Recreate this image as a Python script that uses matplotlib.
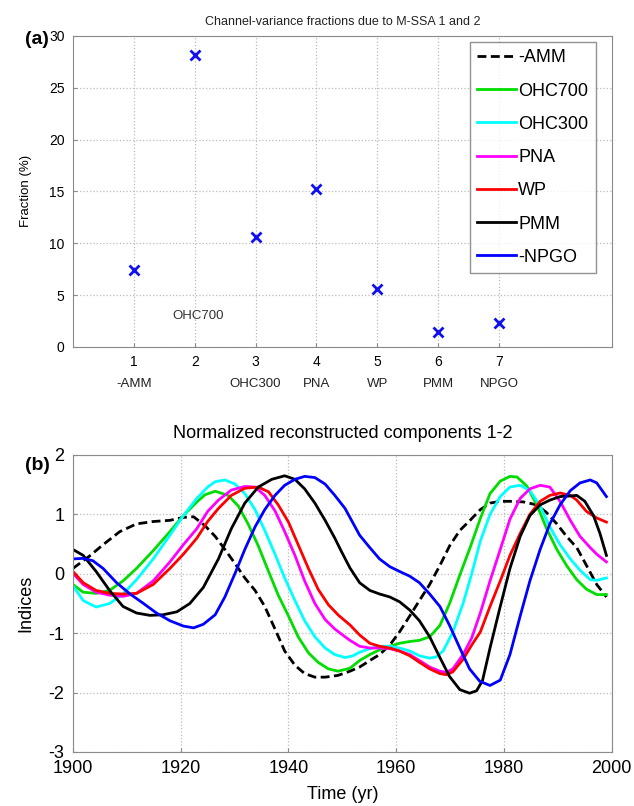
import matplotlib
matplotlib.use("Agg")
import matplotlib.pyplot as plt

plt.rcParams['font.family'] = ['Liberation Sans', 'DejaVu Sans']
plt.rcParams['axes.unicode_minus'] = False

# ---------------- Panel (a) data ----------------
chan_idx = [1, 2, 3, 4, 5, 6, 7]
chan_names = ['-AMM', '', 'OHC300', 'PNA', 'WP', 'PMM', 'NPGO']
fractions = [7.4, 28.2, 10.6, 15.2, 5.6, 1.4, 2.3]

# ---------------- Panel (b) data ----------------
amm_yr = [1900, 1903.1, 1905.6, 1908.7, 1911.8, 1914.9, 1918, 1920.5, 1922.4, 1924.5, 1926.4, 1928.2,
          1930.1, 1931.9, 1933.8, 1935.6, 1937.5, 1939.3, 1941.2, 1943, 1944.9, 1946.8, 1949.2, 1951.4,
          1953.2, 1955.1, 1956.9, 1958.8, 1960.6, 1962.5, 1964.3, 1966.2, 1968.1, 1969.9, 1971.8, 1973.7,
          1975.6, 1977.4, 1979.3, 1981.1, 1983.6, 1986.1, 1987.9, 1989.8, 1991.6, 1993.5, 1995.3, 1997.2, 1999]
amm_val = [0.09, 0.3, 0.49, 0.71, 0.84, 0.88, 0.9, 0.95, 0.96, 0.81, 0.63, 0.41,
           0.17, -0.07, -0.28, -0.55, -0.93, -1.3, -1.54, -1.68, -1.74, -1.74, -1.71, -1.64,
           -1.57, -1.46, -1.36, -1.2, -0.98, -0.71, -0.45, -0.18, 0.14, 0.47, 0.73, 0.9,
           1.08, 1.19, 1.22, 1.22, 1.21, 1.16, 1.03, 0.84, 0.63, 0.44, 0.14, -0.18, -0.39]

ohc700_yr = [1900, 1901.9, 1904.3, 1906.8, 1909.3, 1911.8, 1914.9, 1918, 1920.5, 1923, 1924.5, 1926.4,
             1928.8, 1930.7, 1932.5, 1934.4, 1936.3, 1938.1, 1940, 1941.8, 1943.7, 1945.5, 1947.4, 1949.2,
             1951.4, 1953.2, 1955.1, 1956.9, 1958.8, 1960.6, 1962.5, 1964.3, 1966.2, 1968.1, 1969.9, 1971.8,
             1973.7, 1975.6, 1977.4, 1979.3, 1981.1, 1982.4, 1984.2, 1986.1, 1987.9, 1989.8, 1991.6, 1993.5,
             1995.3, 1997.2, 1999]
ohc700_val = [-0.18, -0.31, -0.33, -0.28, -0.12, 0.09, 0.39, 0.71, 0.98, 1.21, 1.33, 1.39,
              1.32, 1.14, 0.84, 0.47, 0.04, -0.36, -0.71, -1.06, -1.33, -1.49, -1.6, -1.64,
              -1.59, -1.46, -1.36, -1.28, -1.22, -1.17, -1.14, -1.12, -1.06, -0.87, -0.5, -0.02,
              0.44, 0.93, 1.35, 1.56, 1.64, 1.63, 1.48, 1.16, 0.76, 0.41, 0.14, -0.1,
              -0.26, -0.35, -0.35]

ohc300_yr = [1900, 1901.9, 1904.3, 1906.8, 1909.3, 1911.8, 1914.9, 1918, 1920.5, 1923, 1925, 1926.4,
             1928.2, 1930.1, 1931.9, 1933.8, 1935.6, 1937.5, 1939.3, 1941.2, 1943, 1944.9, 1946.8, 1948.6,
             1950.5, 1952, 1953.2, 1955.1, 1956.9, 1958.8, 1960.6, 1962.5, 1964.3, 1966.2, 1967.4, 1968.7,
             1970.5, 1972.4, 1974, 1975.6, 1977.4, 1979.3, 1981.1, 1983, 1984.8, 1986.7, 1988.5, 1990.4,
             1992.3, 1994.1, 1996, 1997.2, 1999]
ohc300_val = [-0.2, -0.45, -0.56, -0.5, -0.34, -0.1, 0.25, 0.65, 0.98, 1.27, 1.46, 1.55,
              1.58, 1.51, 1.35, 1.08, 0.73, 0.33, -0.07, -0.45, -0.79, -1.06, -1.25, -1.36,
              -1.41, -1.38, -1.32, -1.26, -1.22, -1.22, -1.25, -1.3, -1.38, -1.42, -1.4, -1.3,
              -0.98, -0.5, 0.0, 0.55, 1.0, 1.3, 1.46, 1.49, 1.4, 1.14, 0.79, 0.49,
              0.25, 0.06, -0.1, -0.11, -0.07]

pna_yr = [1900, 1901.9, 1904.3, 1906.8, 1909.3, 1911.8, 1914.9, 1918, 1920.5, 1923, 1925, 1927,
          1929.4, 1931.9, 1933.8, 1935.6, 1937.5, 1939.3, 1941.2, 1943, 1944.9, 1946.8, 1948.6, 1950.5,
          1951.4, 1953.2, 1955.1, 1956.9, 1958.8, 1960.6, 1962.5, 1964.3, 1966.2, 1968.1, 1969.3, 1970.5,
          1972.4, 1974, 1975.6, 1977.4, 1979.3, 1981.1, 1983, 1984.8, 1986.7, 1988.5, 1990.4, 1992.3,
          1994.1, 1996, 1997.2, 1999]
pna_val = [0.01, -0.18, -0.31, -0.36, -0.38, -0.33, -0.12, 0.2, 0.49, 0.76, 1.05, 1.24,
           1.41, 1.47, 1.46, 1.32, 1.06, 0.71, 0.31, -0.12, -0.5, -0.77, -0.93, -1.06,
           -1.12, -1.22, -1.25, -1.25, -1.26, -1.3, -1.36, -1.46, -1.57, -1.64, -1.66, -1.6,
           -1.36, -1.08, -0.66, -0.12, 0.41, 0.92, 1.27, 1.43, 1.49, 1.46, 1.22, 0.9,
           0.63, 0.44, 0.33, 0.2]

wp_yr = [1900, 1901.9, 1904.3, 1906.8, 1909.3, 1911.8, 1914.9, 1918, 1920.5, 1923, 1925, 1927,
         1929.4, 1931.9, 1934.4, 1936.3, 1938.1, 1940, 1941.8, 1943.7, 1945.5, 1947.4, 1949.3, 1951.4,
         1953.2, 1955.1, 1956.9, 1958.8, 1960.6, 1962.5, 1964.3, 1966.2, 1968.1, 1969.3, 1970.5, 1972.4,
         1974, 1975.6, 1977.4, 1979.3, 1981.1, 1983, 1984.8, 1986.7, 1988.5, 1990.4, 1992.3, 1993.5,
         1995.3, 1997.2, 1999]
wp_val = [0.04, -0.15, -0.28, -0.33, -0.34, -0.33, -0.18, 0.09, 0.33, 0.6, 0.88, 1.1,
          1.32, 1.44, 1.46, 1.38, 1.16, 0.87, 0.49, 0.09, -0.26, -0.52, -0.7, -0.86,
          -1.03, -1.17, -1.22, -1.25, -1.3, -1.38, -1.49, -1.6, -1.68, -1.7, -1.65, -1.44,
          -1.2, -0.98, -0.55, -0.12, 0.31, 0.68, 1.0, 1.22, 1.32, 1.36, 1.32, 1.24,
          1.05, 0.94, 0.87]

pmm_yr = [1900, 1901.9, 1904.3, 1906.8, 1909.3, 1911.8, 1914.3, 1916.7, 1919.3, 1921.7, 1924.2, 1927,
          1929.4, 1931.9, 1934.4, 1936.9, 1939.3, 1941.2, 1943, 1944.9, 1946.8, 1948.6, 1949.8, 1951.4,
          1953.2, 1955.1, 1956.9, 1958.8, 1960.6, 1962.5, 1964.3, 1966.2, 1968.1, 1969.9, 1971.8, 1973.6,
          1974.9, 1976, 1977.4, 1979.3, 1981.1, 1983, 1984.8, 1986.7, 1988.5, 1990.4, 1992.3, 1993.5,
          1995, 1996.6, 1997.8, 1999]
pmm_val = [0.41, 0.31, 0.04, -0.28, -0.55, -0.66, -0.7, -0.69, -0.64, -0.5, -0.23, 0.25,
           0.76, 1.19, 1.46, 1.59, 1.65, 1.59, 1.43, 1.19, 0.9, 0.6, 0.38, 0.1,
           -0.15, -0.28, -0.34, -0.39, -0.47, -0.61, -0.79, -1.06, -1.41, -1.73, -1.95, -2.01,
           -1.97, -1.8, -1.25, -0.55, 0.09, 0.63, 0.98, 1.16, 1.24, 1.3, 1.31, 1.32,
           1.22, 0.98, 0.68, 0.31]

npgo_yr = [1900, 1901.9, 1903.7, 1905.6, 1908.1, 1910.6, 1913.1, 1915.5, 1918, 1920.5, 1922.4, 1924.2,
           1926.4, 1928.2, 1930.1, 1931.9, 1933.8, 1935.6, 1937.5, 1939.3, 1941.2, 1943, 1944.9, 1946.8,
           1948.6, 1950.5, 1951.4, 1953.2, 1955.1, 1956.9, 1958.8, 1960.6, 1962.5, 1964.3, 1966.2, 1968.1,
           1969.9, 1971.8, 1973.6, 1975.5, 1977.4, 1979.3, 1981.1, 1983, 1984.8, 1986.7, 1988.5, 1990.4,
           1992.3, 1994.1, 1996, 1997.2, 1999]
npgo_val = [0.25, 0.26, 0.22, 0.09, -0.15, -0.34, -0.5, -0.66, -0.79, -0.88, -0.91, -0.85,
            -0.69, -0.39, 0.01, 0.41, 0.79, 1.08, 1.32, 1.49, 1.59, 1.64, 1.62, 1.51,
            1.32, 1.1, 0.95, 0.65, 0.44, 0.25, 0.12, 0.04, -0.04, -0.15, -0.34, -0.55,
            -0.87, -1.25, -1.6, -1.81, -1.88, -1.79, -1.36, -0.71, -0.12, 0.41, 0.84, 1.16,
            1.4, 1.53, 1.58, 1.53, 1.3]

series = [
    ('-AMM', amm_yr, amm_val, 'black', (0, (3.2, 1.6))),
    ('OHC700', ohc700_yr, ohc700_val, '#00dd00', '-'),
    ('OHC300', ohc300_yr, ohc300_val, '#00ffff', '-'),
    ('PNA', pna_yr, pna_val, '#ff00ff', '-'),
    ('WP', wp_yr, wp_val, '#ff0000', '-'),
    ('PMM', pmm_yr, pmm_val, 'black', '-'),
    ('-NPGO', npgo_yr, npgo_val, '#0000ff', '-'),
]

fig = plt.figure(figsize=(6.34, 8.06), dpi=100)
spine_col = '#8a8a8a'
grid_kw = dict(color='#bbbbbb', linestyle=':', linewidth=0.9)

# ---------------- Panel (a) ----------------
ax1 = fig.add_axes([0.115, 0.5695, 0.850, 0.386])
ax1.plot(chan_idx, fractions, linestyle='none', marker='x', color='#1010ee',
         markersize=7, markeredgewidth=2)
ax1.set_xlim(0, 8.85)
ax1.set_ylim(0, 30)
ax1.set_xticks(chan_idx)
ax1.set_xticklabels([str(i) for i in chan_idx])
ax1.set_yticks([0, 5, 10, 15, 20, 25, 30])
ax1.tick_params(labelsize=10, length=3, color=spine_col, direction='in', pad=6)
ax1.grid(True, **grid_kw)
for s in ax1.spines.values():
    s.set_color(spine_col)
for i, nm in zip(chan_idx, chan_names):
    ax1.text(i, -0.12, nm, transform=ax1.get_xaxis_transform(), ha='center', va='center',
             fontsize=9.5, color='#222222')
ax1.text(2.05, 3.0, 'OHC700', ha='center', va='center', fontsize=9.5, color='#333333')
ax1.set_ylabel('Fraction (%)', fontsize=9.5, labelpad=12)
ax1.set_title('Channel-variance fractions due to M-SSA 1 and 2', fontsize=9, pad=8, color='#222222')
fig.text(0.04, 0.951, '(a)', fontsize=14, fontweight='bold', ha='left', va='center')

# ---------------- Panel (b) ----------------
ax2 = fig.add_axes([0.115, 0.067, 0.850, 0.3685])
handles = []
for name, yr, val, col, ls in series:
    h, = ax2.plot(yr, val, color=col, linestyle=ls, linewidth=2, label=name)
    handles.append(h)
ax2.set_xlim(1900, 2000)
ax2.set_ylim(-3, 2)
ax2.set_xticks([1900, 1920, 1940, 1960, 1980, 2000])
ax2.set_yticks([-3, -2, -1, 0, 1, 2])
ax2.tick_params(labelsize=13, length=3, color=spine_col, direction='in', pad=6)
ax2.grid(True, **grid_kw)
for s in ax2.spines.values():
    s.set_color(spine_col)
ax2.set_xlabel('Time (yr)', fontsize=13, labelpad=6)
ax2.set_ylabel('Indices', fontsize=13, labelpad=10)
ax2.set_title('Normalized reconstructed components 1-2', fontsize=13, pad=12)
fig.text(0.04, 0.422, '(b)', fontsize=14, fontweight='bold', ha='left', va='center')

leg = ax1.legend(handles=handles, loc='upper right', bbox_to_anchor=(0.97, 0.98), fontsize=13,
                 frameon=True, fancybox=False, edgecolor='#777777', handlelength=2.2,
                 handletextpad=0.1, borderpad=0.4, labelspacing=0.9, borderaxespad=0)
leg.get_frame().set_linewidth(1.0)

fig.savefig('out.png', dpi=100)
